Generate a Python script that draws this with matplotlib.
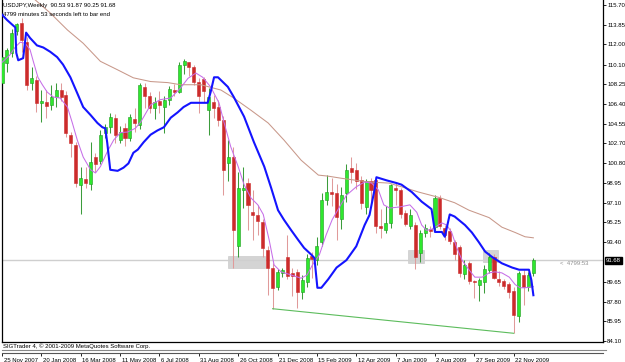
import matplotlib
matplotlib.use("Agg")
import matplotlib.pyplot as plt
import matplotlib.transforms as mtransforms
from matplotlib.lines import Line2D
from matplotlib.patches import Rectangle

### Weekly USDJPY candles, bar 0 = week of 25 Nov 2007
opens = [108.4, 110.2, 111.2, 113.3, 114.0, 112.2, 108.4, 108.6, 106.5, 106.6,
         106.3, 107.0, 107.7, 107.2, 103.5, 102.5, 98.8, 99.3, 98.9, 101.4,
         101.0, 103.7, 104.2, 105.1, 103.0, 104.1, 103.2, 105.0, 104.4, 108.0,
         107.1, 106.0, 106.7, 106.1, 106.8, 107.7, 107.5, 110.1, 110.3, 109.9,
         108.5, 108.7, 105.8, 106.6, 106.1, 104.9, 100.8, 101.4, 93.0, 98.3,
         99.0, 96.2, 95.9, 95.3, 92.7, 91.0, 89.2, 90.5, 92.0, 90.5,
         90.6, 88.7, 89.6, 92.1, 91.7, 93.4, 97.4, 98.1, 98.0, 95.6,
         98.0, 100.4, 100.2, 99.2, 96.7, 99.1, 99.2, 94.9, 94.5, 95.2,
         98.5, 98.3, 96.1, 94.9, 95.0, 92.4, 94.3, 94.6, 94.8, 97.5,
         94.7, 94.4, 93.4, 92.9, 90.4, 91.4, 89.7, 89.4, 89.6, 90.8,
         92.0, 89.9, 89.7, 89.5, 88.8, 86.4, 90.3, 89.2, 90.53]
highs = [111.0, 111.7, 113.4, 114.0, 114.5, 112.7, 109.9, 109.0, 107.7, 107.7,
         108.2, 108.4, 108.4, 107.6, 103.8, 102.8, 100.5, 100.5, 102.8, 101.8,
         103.9, 104.5, 105.5, 105.4, 104.3, 104.6, 105.4, 106.0, 108.4, 108.4,
         107.5, 107.0, 107.6, 107.1, 108.1, 108.3, 110.3, 110.6, 110.3, 110.1,
         108.8, 108.9, 107.9, 107.2, 106.8, 105.3, 103.0, 102.3, 100.0, 100.5,
         99.4, 98.3, 96.9, 95.6, 93.0, 91.4, 90.9, 91.0, 94.1, 91.0,
         90.9, 90.3, 92.3, 92.5, 93.9, 98.0, 99.7, 99.4, 98.9, 98.6,
         100.7, 101.4, 100.8, 99.6, 99.3, 99.4, 99.3, 96.5, 96.8, 98.9,
         99.0, 98.5, 96.4, 96.5, 95.3, 94.5, 95.1, 94.9, 97.8, 97.8,
         95.0, 94.7, 93.6, 93.1, 91.7, 91.6, 89.8, 90.0, 91.2, 92.4,
         92.3, 90.7, 89.9, 89.6, 89.2, 90.7, 90.8, 90.6, 91.87]
lows = [107.0, 109.4, 110.8, 112.9, 111.3, 107.7, 107.7, 105.6, 104.7, 105.1,
        105.8, 106.1, 106.7, 103.3, 101.4, 98.6, 96.0, 98.5, 98.3, 100.0,
        100.7, 103.2, 103.7, 102.7, 102.7, 102.4, 102.9, 103.8, 104.0, 106.0,
        105.5, 105.0, 105.5, 103.7, 106.3, 107.1, 107.4, 109.2, 109.0, 108.2,
        105.5, 106.6, 103.5, 105.1, 104.3, 97.8, 99.1, 91.0, 92.0, 96.6,
        94.5, 93.6, 94.1, 92.0, 88.4, 87.13, 88.9, 90.1, 89.9, 88.3,
        87.2, 88.0, 89.2, 90.0, 91.2, 93.0, 96.9, 96.8, 93.6, 94.6,
        97.2, 99.0, 98.4, 96.5, 96.0, 97.2, 94.3, 93.8, 94.3, 94.7,
        96.9, 95.7, 94.9, 94.6, 90.9, 91.5, 93.9, 93.9, 94.4, 94.6,
        93.6, 93.2, 91.7, 90.1, 89.9, 89.5, 88.1, 87.9, 88.6, 90.5,
        89.9, 89.3, 89.0, 88.1, 84.82, 85.9, 87.5, 88.8, 90.25]
closes = [110.8, 111.5, 113.1, 113.9, 112.4, 108.2, 108.8, 106.5, 106.7, 106.2,
          107.0, 107.7, 107.0, 103.7, 102.7, 99.0, 99.4, 99.0, 100.9, 100.7,
          103.5, 104.2, 105.2, 103.5, 103.8, 103.2, 105.2, 104.6, 108.2, 107.1,
          106.0, 106.6, 106.3, 106.8, 107.8, 107.5, 110.1, 110.4, 109.9, 108.5,
          107.1, 107.6, 107.0, 106.0, 104.9, 100.2, 101.4, 94.5, 98.5, 98.5,
          96.9, 95.9, 95.4, 92.8, 91.0, 89.1, 90.6, 90.8, 90.2, 90.2,
          88.7, 89.8, 91.9, 91.8, 93.0, 97.4, 98.1, 97.9, 95.8, 97.8,
          100.2, 100.0, 99.1, 97.1, 99.1, 98.3, 94.9, 94.7, 95.2, 98.8,
          98.3, 96.0, 95.1, 95.9, 92.0, 94.3, 94.7, 94.4, 97.5, 94.9,
          94.1, 93.5, 92.3, 90.5, 91.2, 89.7, 89.6, 89.8, 90.9, 92.0,
          90.0, 89.6, 89.3, 88.7, 86.5, 90.5, 89.2, 90.3, 91.68]

### Indicator lines (bar index, price)
blue_x = [0, 1.0, 2.2, 2.7, 2.9, 3.3, 4.3, 4.9, 5.7, 7.1, 8.4, 9.8, 11.2, 12.4,
          13.9, 15.3, 16.5, 18.0, 19.4, 20.4, 21.0, 21.4, 22.0, 23.5, 24.7, 25.7,
          26.7, 27.6, 28.8, 30.2, 31.6, 32.9, 34.3, 35.7, 36.9, 38.4, 39.8, 41.8,
          42.4, 43.1, 43.9, 45.9, 47.1, 49.2, 51.2, 53.3, 54.7, 56.1, 57.3, 58.8,
          60.2, 61.4, 62.9, 63.5, 64.1, 64.9, 66.3, 68.0, 70.0, 72.0, 73.7, 74.7,
          75.7, 76.1, 78.2, 80.2, 81.2, 83.3, 85.3, 87.3, 88.0, 89.4, 90.0, 91.0,
          92.0, 94.1, 95.5, 96.9, 98.2, 99.6, 101.6, 103.7, 105.1, 107.1, 107.6, 108.0]
blue_y = [114.8, 114.3, 113.8, 113.6, 111.2, 110.5, 110.7, 113.1, 112.6, 111.9, 111.7,
          111.3, 110.8, 110.1, 108.9, 107.4, 106.1, 105.35, 104.6, 104.2, 104.1, 102.7,
          100.2, 100.1, 100.4, 100.8, 101.8, 102.1, 102.8, 103.5, 103.9, 104.2, 105.1,
          105.6, 106.1, 106.5, 106.5, 106.5, 107.5, 108.9, 108.9, 108.0, 107.05, 105.2,
          102.8, 100.5, 98.5, 96.4, 95.5, 94.5, 93.6, 92.85, 92.2, 91.9, 89.1, 89.1,
          89.9, 91.0, 91.7, 93.0, 95.0, 95.95, 98.3, 99.5, 99.2, 98.95, 98.8, 98.1,
          97.2, 96.5, 94.35, 94.35, 93.9, 96.0, 95.8, 95.0, 94.3, 93.4, 92.5, 92.0,
          91.4, 91.0, 90.8, 90.8, 89.8, 88.4]

magenta_x = [0, 1.6, 2.7, 3.7, 4.7, 5.7, 6.3, 7.3, 8.2, 9.2, 10.4, 11.8, 13.3, 14.3,
             15.3, 16.5, 18.0, 19.0, 20.0, 21.4, 22.7, 24.1, 25.5, 27.1, 28.2, 30.2,
             32.2, 34.3, 36.3, 37.8, 39.4, 40.8, 42.4, 44.1, 45.1, 46.5, 48.0, 49.2,
             50.6, 52.0, 53.1, 54.3, 55.3, 56.7, 58.8, 60.8, 62.0, 63.1, 64.5, 65.9,
             67.1, 68.6, 70.0, 72.0, 73.7, 75.1, 76.5, 77.6, 78.8, 80.8, 82.9, 84.3,
             85.3, 86.3, 87.3, 89.4, 90.4, 91.4, 92.4, 93.5, 94.9, 96.1, 97.6, 99.0,
             100.2, 101.6, 103.1, 104.3, 105.3, 106.3, 108.0]
magenta_y = [110.3, 111.0, 111.75, 112.2, 112.1, 111.5, 110.5, 108.9, 108.2, 107.5,
             107.05, 106.95, 106.1, 104.6, 103.0, 101.4, 100.2, 99.9, 100.5, 101.9,
             103.0, 103.7, 103.75, 104.1, 104.7, 106.3, 106.8, 106.95, 107.9, 108.8,
             109.3, 108.9, 108.0, 106.5, 104.7, 102.35, 100.5, 98.8, 97.55, 96.9,
             96.0, 93.6, 91.25, 90.6, 90.3, 90.0, 90.3, 91.25, 92.2, 94.1, 95.5, 96.7,
             97.8, 98.6, 99.05, 98.96, 98.3, 96.9, 96.6, 96.7, 96.9, 96.2, 95.0, 94.5,
             94.6, 95.2, 95.0, 94.3, 92.9, 91.7, 90.8, 90.1, 90.1, 90.5, 90.6, 90.5,
             90.1, 89.4, 89.1, 89.1, 89.2]

brown_x = [4.0, 6.7, 9.8, 13.3, 16.5, 20.0, 23.5, 26.7, 30.2, 33.7, 36.3, 40.4, 44.5,
           47.1, 50.6, 54.1, 57.3, 60.8, 64.3, 66.3, 69.0, 74.5, 78.6, 81.2, 84.7,
           88.8, 92.0, 94.9, 99.0, 101.6, 104.3, 106.3, 108.0]
brown_y = [117.0, 116.2, 114.95, 113.35, 112.1, 110.4, 109.6, 108.85, 108.5, 108.4,
           108.2, 108.2, 107.7, 106.95, 105.8, 104.6, 103.0, 101.1, 99.7, 99.6, 99.4,
           99.05, 98.95, 98.6, 98.1, 97.6, 97.1, 96.4, 95.7, 94.8, 94.3, 93.9, 93.8]

### Trendline under the lows, current price and shaded zones
trend_x = [55, 104]
trend_y = [87.13, 84.82]
last_price = 91.68
zones = [(45.9, 53.5, 90.97, 92.09), (82.5, 85.8, 91.44, 92.66), (97.8, 100.8, 91.5, 92.7)]

### Axis labels
price_ticks = [115.70, 113.85, 112.00, 110.10, 108.25, 106.40, 104.55, 102.70, 100.80,
               98.95, 97.10, 95.25, 93.40, 89.65, 87.80, 85.95, 84.10]
date_pos = [0, 8, 16, 24, 32, 40, 48, 56, 64, 72, 80, 88, 96, 104]
date_labels = ["25 Nov 2007", "20 Jan 2008", "16 Mar 2008", "11 May 2008", "6 Jul 2008",
               "31 Aug 2008", "26 Oct 2008", "21 Dec 2008", "15 Feb 2009", "12 Apr 2009",
               "7 Jun 2009", "2 Aug 2009", "27 Sep 2009", "22 Nov 2009"]

### Figure setup
plt.rcParams["font.family"] = ["Liberation Sans", "DejaVu Sans"]
fs = 4.3
W, H = 625, 362
fig = plt.figure(figsize=(W / 100, H / 100), dpi=100, facecolor="white")
ax = fig.add_axes([2 / W, 1 - 342 / H, 601 / W, 342 / H])
ax.set_xlim(0, 122.15)
ax.set_ylim(84.0, 116.17)

### Zones and current price line
for x0, x1, p0, p1 in zones:
    ax.add_patch(Rectangle((x0, p0), x1 - x0, p1 - p0, facecolor="#d4d4d4",
                           edgecolor="#c4c4c4", lw=0.4, zorder=1))
ax.axhline(last_price, color="#cfcfcf", lw=1.0, zorder=1)

### Candles
bull_face, bull_edge, bull_wick = "#2ee82e", "#1f9a1f", "#3c9c3c"
bear_face, bear_wick = "#cc2b2b", "#e09a9a"
for i in range(len(opens)):
    o, h, l, c = opens[i], highs[i], lows[i], closes[i]
    up = c >= o
    ax.vlines(i, l, h, color=bull_wick if up else bear_wick, lw=0.75, zorder=2)
    body = max(abs(c - o), 0.08)
    ax.bar(i, body, width=0.62, bottom=min(o, c),
           color=bull_face if up else bear_face,
           edgecolor=bull_edge if up else bear_face, linewidth=0.4, zorder=3)

### Moving average lines and trendline
ax.plot(brown_x, brown_y, color="#c8988a", lw=0.75, zorder=4)
ax.plot(magenta_x, magenta_y, color="#c66ee8", lw=0.75, zorder=5)
ax.plot(blue_x, blue_y, color="#1414ff", lw=1.5, zorder=6)
ax.plot(trend_x, trend_y, color="#5cbc5c", lw=0.8, zorder=4)

### Timer text and price box
ax.text(113.4, 91.42, "<  4799:53", fontsize=fs, color="#909090", va="center", ha="left")
blend = mtransforms.blended_transform_factory(ax.transAxes, ax.transData)
ax.text(1.005, last_price, "%.2f" % last_price, transform=blend, fontsize=fs,
        color="white", va="center", ha="left",
        bbox=dict(facecolor="black", edgecolor="black", pad=0.7))

### Price axis on the right
ax.yaxis.tick_right()
ax.set_yticks(price_ticks)
ax.set_yticklabels(["%.2f" % p for p in price_ticks])
ax.tick_params(axis="y", length=2, width=0.6, pad=1.0, labelsize=fs, colors="black")
ax.set_xticks([])
ax.spines["top"].set_visible(False)
for s in ["left", "right", "bottom"]:
    ax.spines[s].set_linewidth(0.9)

### Date axis below the strip
ax2 = fig.add_axes([2 / W, 1 - 353 / H, 601 / W, 0.5 / H])
ax2.set_xlim(ax.get_xlim())
ax2.set_yticks([])
for s in ["left", "right", "top"]:
    ax2.spines[s].set_visible(False)
ax2.spines["bottom"].set_color("#555555")
ax2.spines["bottom"].set_linewidth(0.8)
ax2.set_xticks(date_pos)
ax2.set_xticklabels(date_labels)
ax2.tick_params(axis="x", length=2.5, width=0.6, pad=1.0, labelsize=fs)
shift = mtransforms.ScaledTranslation(1.5 / 100, 0, fig.dpi_scale_trans)
for lab in ax2.get_xticklabels():
    lab.set_ha("left")
    lab.set_transform(lab.get_transform() + shift)
fig.add_artist(Line2D([2 / W, 606 / W], [1 - 350 / H] * 2, color="#888888", lw=0.8))

### Header and footer texts
fig.text(3 / W, 1 - 6 / H, "USDJPY,Weekly  90.53 91.87 90.25 91.68", fontsize=fs, va="center")
fig.text(3 / W, 1 - 14 / H, "4799 minutes 53 seconds left to bar end", fontsize=fs, va="center")
fig.text(3 / W, 1 - 346.5 / H, "SIGTrader 4, \u00a9 2001-2009 MetaQuotes Software Corp.",
         fontsize=fs, va="center")

### Save to figure file
plt.savefig("out.png", dpi=100, facecolor="white")
